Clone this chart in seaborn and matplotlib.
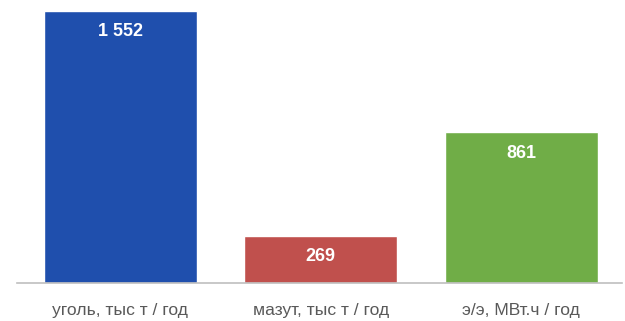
import matplotlib
matplotlib.use("Agg")
import matplotlib.pyplot as plt
import seaborn as sns
import pandas as pd

# chart data
categories = ["уголь, тыс т / год", "мазут, тыс т / год", "э/э, МВт.ч / год"]
values = [1552, 269, 861]
value_labels = ["1 552", "269", "861"]
colors = ["#1f4fad", "#c0504d", "#70ad47"]

df = pd.DataFrame({"cat": categories, "val": values})

sns.set_style("white")
plt.rcParams["font.family"] = ["Liberation Sans", "DejaVu Sans"]

fig = plt.figure(figsize=(6.25, 3.21), dpi=100)
ax = fig.add_axes([0.0272, 0.118, 0.968, 0.882])

sns.barplot(data=df, x="cat", y="val", hue="cat", palette=colors,
            width=0.764, legend=False, ax=ax, saturation=1)

ax.set_xlim(-0.516, 2.504)
ax.set_ylim(0, 1614)

# value labels inside the bars
for i, (v, lab) in enumerate(zip(values, value_labels)):
    ax.text(i, v - 120, lab, ha="center", va="center", color="white",
            fontsize=13, fontweight="bold")

ax.set_xlabel("")
ax.set_ylabel("")
ax.set_yticks([])
ax.tick_params(axis="x", length=0, pad=14, labelsize=12.6, labelcolor="#595959")

for side in ["top", "left", "right"]:
    ax.spines[side].set_visible(False)
ax.spines["bottom"].set_color("#bfbfbf")
ax.spines["bottom"].set_linewidth(1.2)

fig.savefig("out.png", dpi=100)
